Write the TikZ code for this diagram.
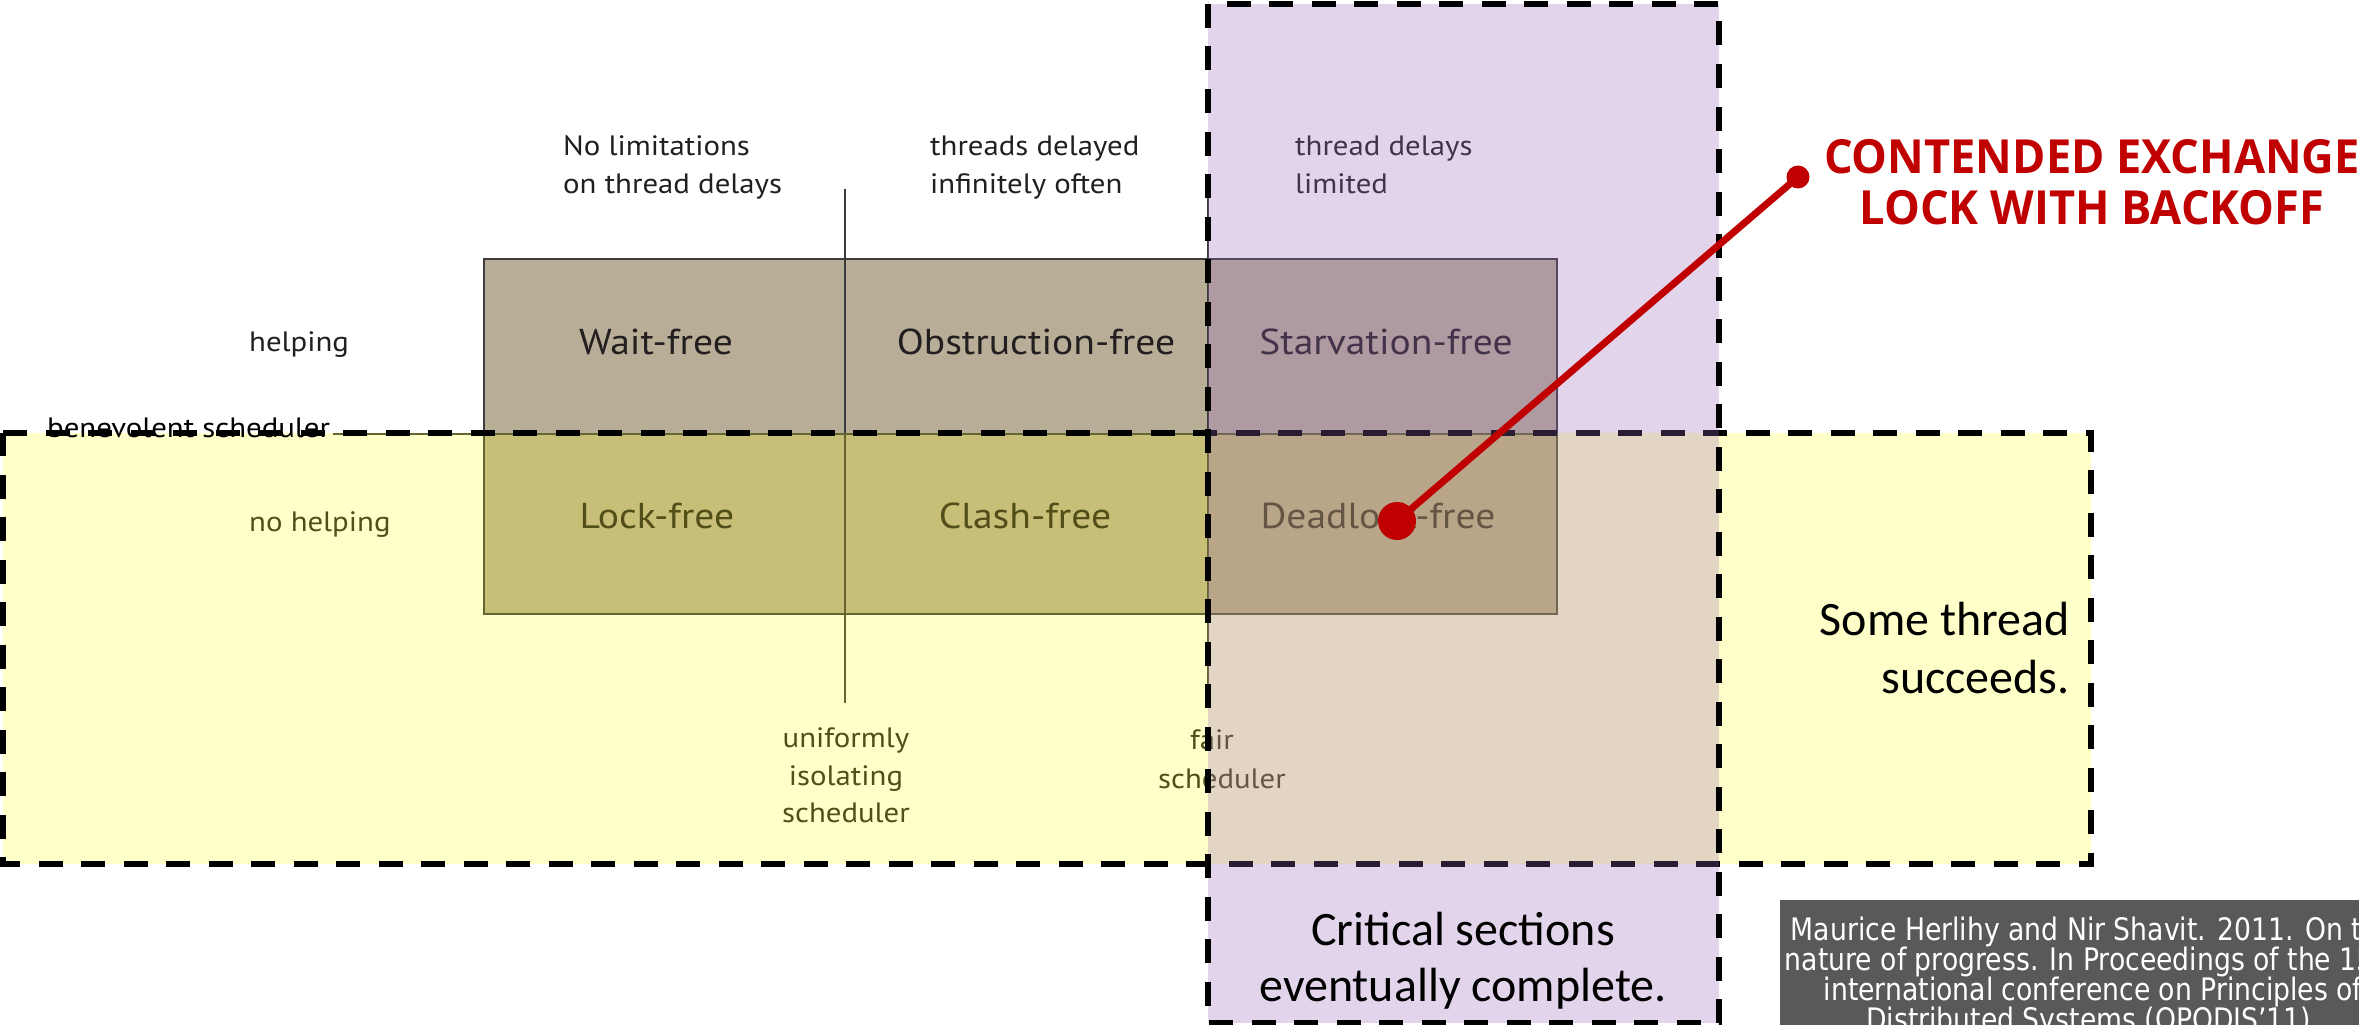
\documentclass[tikz,border=0pt]{standalone}
\usepackage{fontspec}
\setmainfont{PT Sans}[FakeStretch=1.1]
\newfontfamily\bodyfont{Carlito}
\newfontfamily\calloutfont{Open Sans}[FakeStretch=0.96]
\newfontfamily\citefont{DejaVu Sans}[FakeStretch=0.86]

\definecolor{boxgray}{RGB}{184,173,151}
\definecolor{edgegray}{RGB}{60,60,60}
\definecolor{inkdark}{RGB}{35,31,32}
\definecolor{bandyellow}{RGB}{255,255,0}
\definecolor{colpurple}{RGB}{151,105,184}
\definecolor{alertred}{RGB}{192,0,0}
\definecolor{notegray}{RGB}{89,89,89}

\tikzset{
  lab/.style={inner sep=0pt, text=inkdark, font=\fontsize{28}{34}\selectfont},
  cell/.style={inner sep=0pt, text=inkdark, font=\fontsize{36}{42}\selectfont},
  big/.style={inner sep=0pt, text=black, font=\bodyfont\fontsize{48}{58}\selectfont},
  callout/.style={inner sep=0pt, text=alertred, font=\calloutfont\bfseries\fontsize{47}{52}\selectfont},
  cite/.style={inner sep=0pt, text=white, font=\citefont\fontsize{31}{31}\selectfont},
  region/.style={draw=black, line width=6pt, dash pattern=on 24pt off 18.5pt},
  divider/.style={line width=1.5pt, draw=edgegray},
  dot/.style={circle, fill=alertred, inner sep=0pt},
}

\begin{document}
\begin{tikzpicture}[x=1pt, y=-1pt]
\useasboundingbox (0,0) rectangle (2359,1025);
\clip (0,0) rectangle (2359,1025);

% progress-condition grid
\fill[boxgray] (484,259) rectangle (1557,614);
\draw[divider] (333,434) -- (1557,434);
\draw[divider] (845,189) -- (845,703);
\draw[divider] (1208,189) -- (1208,703);
\draw[edgegray, line width=2pt] (484,259) rectangle (1557,614);

% column headings
\node[lab, anchor=base west] (nolimA) at (563,155) {No limitations};
\node[lab, anchor=base west] (nolimB) at (563,193) {on thread delays};
\node[lab, anchor=base west] (infA) at (930,155) {threads delayed};
\node[lab, anchor=base west] (infB) at (930,193) {infinitely often};
\node[lab, anchor=base west] (limA) at (1295,155) {thread delays};
\node[lab, anchor=base west] (limB) at (1295,193) {limited};

% row headings
\node[lab, anchor=base west] (help) at (249,351) {helping};
\node[lab, anchor=base west] (nohelp) at (249,531) {no helping};

% scheduler labels
\node[lab, anchor=base] (unifA) at (846,747) {uniformly};
\node[lab, anchor=base] (unifB) at (846,785) {isolating};
\node[lab, anchor=base] (unifC) at (846,822) {scheduler};
\node[lab, anchor=base] (fairA) at (1212,749) {fair};
\node[lab, anchor=base] (fairB) at (1222,788) {scheduler};

% cells
\node[cell, anchor=base] (wait) at (656,354) {Wait-free};
\node[cell, anchor=base] (obst) at (1036,354) {Obstruction-free};
\node[cell, anchor=base] (starv) at (1386,354) {Starvation-free};
\node[cell, anchor=base] (lock) at (657,528) {Lock-free};
\node[cell, anchor=base] (clash) at (1025,528) {Clash-free};
\node[cell, anchor=base] (dead) at (1378,528) {Deadlock-free};

% "some thread succeeds" band
\fill[bandyellow, fill opacity=0.21] (3,433) rectangle (2091,864);
\node[lab, text=black, anchor=base west] (benev) at (47,437) {benevolent scheduler};
\draw[region] (3,433) -- (2091,433) -- (2091,864) -- (3,864) -- cycle;

% "critical sections complete" column
\fill[colpurple, fill opacity=0.28] (1208,4) rectangle (1719,1023);
\draw[region] (1208,4) -- (1208,1023) -- (1719,1023) -- (1719,4) -- cycle;

\node[big, anchor=base east] (someA) at (2070,635) {Some thread};
\node[big, anchor=base east] (someB) at (2070,693) {succeeds.};
\node[big, anchor=base] (critA) at (1463,945) {Critical sections};
\node[big, anchor=base] (critB) at (1463,1001) {eventually complete.};

% callout
\node[dot, minimum size=23pt] (tip) at (1798,177) {};
\node[dot, minimum size=38pt] (spot) at (1397,521) {};
\draw[alertred, line width=7pt] (tip.center) -- (spot.center);
\node[callout, anchor=base] (calloutA) at (2092,173) {CONTENDED EXCHANGE};
\node[callout, anchor=base] (calloutB) at (2092,224) {LOCK WITH BACKOFF};

% citation
\fill[notegray] (1780,900) rectangle (2406,1100);
\node[cite, anchor=base] (citeA) at (2093,940) {Maurice Herlihy and Nir Shavit. 2011. On the};
\node[cite, anchor=base] (citeB) at (2093,970) {nature of progress. In Proceedings of the 15th};
\node[cite, anchor=base] (citeC) at (2093,1000) {international conference on Principles of};
\node[cite, anchor=base] (citeD) at (2093,1030) {Distributed Systems (OPODIS’11).};
\end{tikzpicture}
\end{document}
